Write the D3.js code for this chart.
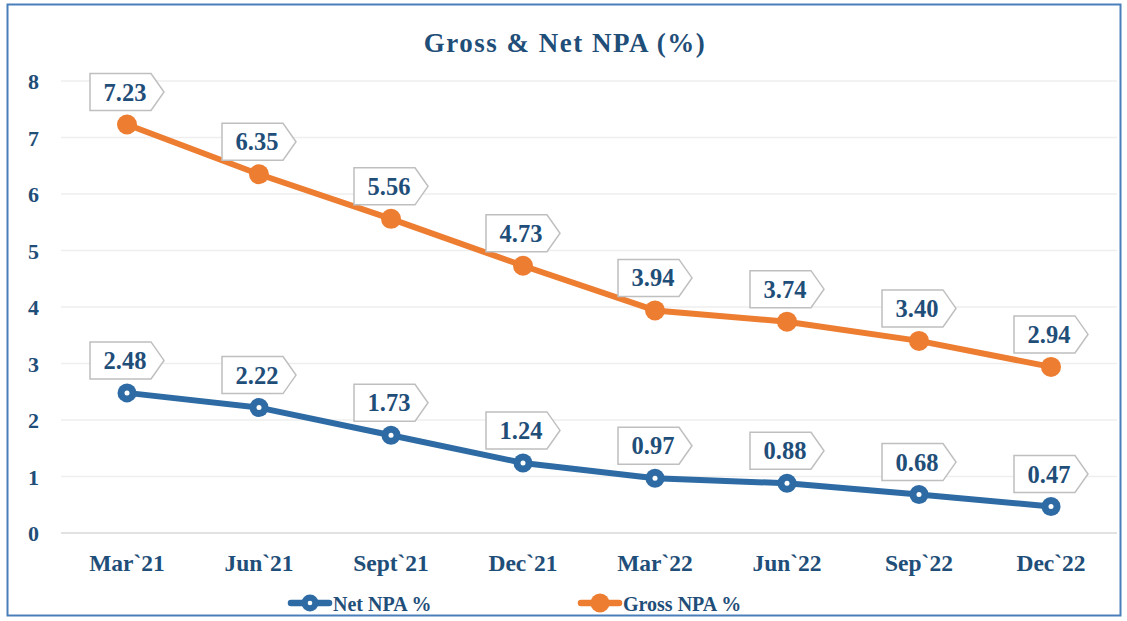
<!DOCTYPE html>
<html>
<head>
<meta charset="utf-8">
<script src="https://cdn.jsdelivr.net/npm/d3@7/dist/d3.min.js"></script>
<style>
  html, body { margin: 0; padding: 0; background: #fff; }
  svg { display: block; }
  text { font-family: "Liberation Serif", "Times New Roman", serif; font-weight: bold; fill: #1F4E79; }
</style>
</head>
<body>
<svg id="chart" width="1127" height="621"></svg>
<script>
// Quarter labels along the x axis
const quarters = ["Mar`21", "Jun`21", "Sept`21", "Dec`21", "Mar`22", "Jun`22", "Sep`22", "Dec`22"];
// NPA ratios in percent
const grossNPA = [7.23, 6.35, 5.56, 4.73, 3.94, 3.74, 3.40, 2.94];
const netNPA = [2.48, 2.22, 1.73, 1.24, 0.97, 0.88, 0.68, 0.47];
// Y axis ticks
const yTicks = [0, 1, 2, 3, 4, 5, 6, 7, 8];

const W = 1127, H = 621;
const margin = { left: 61, right: 10, top: 81, bottom: 88 };
const textColor = "#1F4E79";
const orange = "#ED7D31";
const blue = "#2E6BA4";

const svg = d3.select("#chart");

// outer frame
svg.append("rect")
  .attr("x", 7.5).attr("y", 4.5)
  .attr("width", 1113).attr("height", 611)
  .attr("fill", "#fff")
  .attr("stroke", "#4A7EBB").attr("stroke-width", 2);

// title
svg.append("text")
  .attr("x", 565).attr("y", 52)
  .attr("text-anchor", "middle")
  .style("font-size", "27px")
  .style("letter-spacing", "1.5px")
  .text("Gross & Net NPA (%)");

const x = d3.scaleBand()
  .domain(quarters)
  .range([margin.left, W - margin.right]);

const y = d3.scaleLinear()
  .domain([0, 8])
  .range([H - margin.bottom, margin.top]);

// gridlines
svg.append("g")
  .selectAll("line")
  .data(yTicks)
  .join("line")
  .attr("x1", margin.left).attr("x2", W - margin.right)
  .attr("y1", d => y(d)).attr("y2", d => y(d))
  .attr("stroke", d => d === 0 ? "#D9D9D9" : "#EEEEEE")
  .attr("stroke-width", 1.5);

// y axis labels
const yAxis = d3.axisLeft(y).tickValues(yTicks).tickSize(0).tickPadding(0).tickFormat(d3.format("d"));
const yg = svg.append("g")
  .attr("transform", `translate(${margin.left - 22},0)`)
  .call(yAxis);
yg.select(".domain").remove();
yg.selectAll("text")
  .attr("fill", textColor)
  .attr("dy", "0.35em")
  .style("font-size", "22px")
  .style("font-family", "'Liberation Serif', serif");

// x axis labels
const xAxis = d3.axisBottom(x).tickSize(0).tickPadding(0);
const xg = svg.append("g")
  .attr("transform", `translate(0,${y(0) + 21})`)
  .call(xAxis);
xg.select(".domain").remove();
xg.selectAll("text")
  .attr("fill", textColor)
  .attr("dy", "0.71em")
  .style("font-size", "23.5px")
  .style("font-family", "'Liberation Serif', serif");

const cx = d => x(d) + x.bandwidth() / 2;

const line = d3.line()
  .x((d, i) => cx(quarters[i]))
  .y(d => y(d));

function drawSeries(values, color, hollow) {
  svg.append("path")
    .datum(values)
    .attr("d", line)
    .attr("fill", "none")
    .attr("stroke", color)
    .attr("stroke-width", 6)
    .attr("stroke-linejoin", "round");

  const g = svg.append("g");
  g.selectAll("circle.m")
    .data(values)
    .join("circle")
    .attr("class", "m")
    .attr("cx", (d, i) => cx(quarters[i]))
    .attr("cy", d => y(d))
    .attr("r", hollow ? 9.5 : 10)
    .attr("fill", color);
  if (hollow) {
    g.selectAll("circle.h")
      .data(values)
      .join("circle")
      .attr("class", "h")
      .attr("cx", (d, i) => cx(quarters[i]))
      .attr("cy", d => y(d))
      .attr("r", 2.5)
      .attr("fill", "#fff");
  }
}

drawSeries(grossNPA, orange, false);
drawSeries(netNPA, blue, true);

// value callouts: a box with a pointer on its right side
function drawLabels(values) {
  const bodyW = 61, tipW = 13, boxH = 37, gap = 14;
  const g = svg.append("g");
  values.forEach((v, i) => {
    const px = cx(quarters[i]), py = y(v);
    const left = px - 37, bottom = py - gap, top = bottom - boxH;
    const right = left + bodyW, mid = top + boxH / 2;
    g.append("path")
      .attr("d", `M${left},${top}H${right}L${right + tipW},${mid}L${right},${bottom}H${left}Z`)
      .attr("fill", "#fff")
      .attr("stroke", "#BFBFBF")
      .attr("stroke-width", 1.5);
    g.append("text")
      .attr("x", px - 2)
      .attr("y", mid)
      .attr("dy", "0.35em")
      .attr("text-anchor", "middle")
      .style("font-size", "24.5px")
      .text(d3.format(".2f")(v));
  });
}

drawLabels(grossNPA);
drawLabels(netNPA);

// legend
const legend = [
  { name: "Net NPA %", color: blue, hollow: true, x: 288 },
  { name: "Gross NPA %", color: orange, hollow: false, x: 578 }
];
const ly = 603;
legend.forEach(l => {
  const g = svg.append("g");
  g.append("line")
    .attr("x1", l.x + 3).attr("x2", l.x + 41)
    .attr("y1", ly).attr("y2", ly)
    .attr("stroke", l.color).attr("stroke-width", 6.5)
    .attr("stroke-linecap", "round");
  g.append("circle")
    .attr("cx", l.x + 22).attr("cy", ly)
    .attr("r", l.hollow ? 8.5 : 9.5)
    .attr("fill", l.color);
  if (l.hollow) {
    g.append("circle")
      .attr("cx", l.x + 22).attr("cy", ly)
      .attr("r", 2.3).attr("fill", "#fff");
  }
  g.append("text")
    .attr("x", l.x + 45)
    .attr("y", ly + 8)
    .style("font-size", "20px")
    .text(l.name);
});
</script>
</body>
</html>
